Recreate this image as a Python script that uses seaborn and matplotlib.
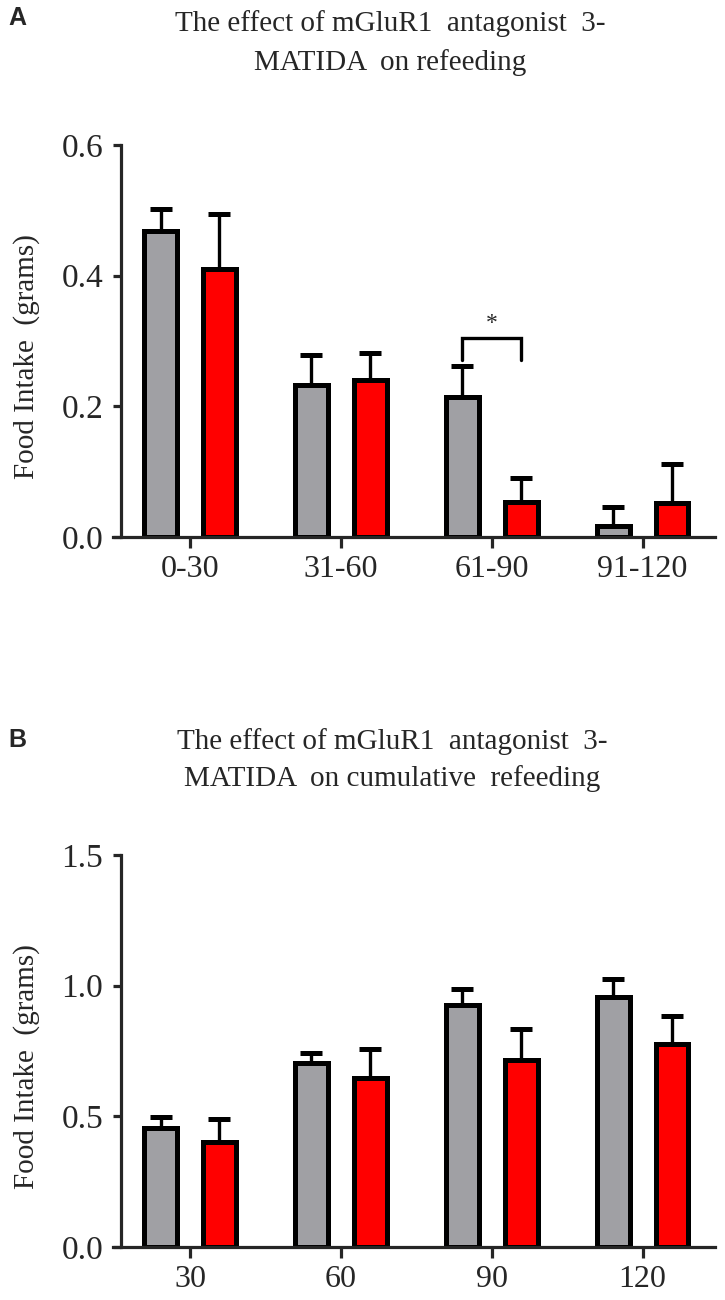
import numpy as np
import pandas as pd
import matplotlib
matplotlib.use('Agg')
import matplotlib.pyplot as plt
import seaborn as sns

# data (mean and upper SEM)
groups = ['Vehicle', '3-MATIDA']
intervals_a = ['0-30', '31-60', '61-90', '91-120']
vehicle_a = [0.468, 0.233, 0.214, 0.017]
vehicle_a_err = [0.034, 0.045, 0.048, 0.029]
matida_a = [0.410, 0.240, 0.054, 0.052]
matida_a_err = [0.085, 0.042, 0.036, 0.060]

intervals_b = ['30', '60', '90', '120']
vehicle_b = [0.455, 0.705, 0.925, 0.955]
vehicle_b_err = [0.043, 0.036, 0.061, 0.069]
matida_b = [0.400, 0.645, 0.715, 0.775]
matida_b_err = [0.088, 0.111, 0.118, 0.109]

# significance bracket in panel A
sig_interval = '61-90'
sig_top = 0.305
sig_leg = 0.271
sig_text = '*'

title_a = 'The effect of mGluR1  antagonist  3-\nMATIDA  on refeeding'
title_b = 'The effect of mGluR1  antagonist  3-\nMATIDA  on cumulative  refeeding'
ylabel = 'Food Intake  (grams)'

grey = '#A0A0A4'
red = '#FF0000'

sns.set_style('ticks')
plt.rcParams['font.family'] = ['Liberation Serif', 'DejaVu Serif']


def draw_panel(ax, cats, veh, veh_err, mat, mat_err, ymax, yticks):
    df = pd.DataFrame({
        'interval': cats * 2,
        'group': [groups[0]] * len(cats) + [groups[1]] * len(cats),
        'intake': list(veh) + list(mat),
    })
    sns.barplot(data=df, x='interval', y='intake', hue='group', order=cats,
                hue_order=groups, palette=[grey, red], saturation=1,
                width=0.78, gap=0.44, errorbar=None, edgecolor='black',
                linewidth=3.6, legend=False, ax=ax)
    for cont, errs in zip(ax.containers, [veh_err, mat_err]):
        xs = [p.get_x() + p.get_width() / 2 for p in cont]
        hs = [p.get_height() for p in cont]
        ax.errorbar(xs, hs, yerr=[np.zeros(len(errs)), errs], fmt='none',
                    ecolor='black', elinewidth=2.4, capsize=8, capthick=3.6,
                    zorder=1)
    ax.set_xlim(-0.51, 3.48)
    ax.set_ylim(0, ymax)
    ax.set_yticks(yticks)
    ax.set_yticklabels([f'{t:.1f}' for t in yticks])
    sns.despine(ax=ax)
    ax.spines['left'].set_position(('data', -0.455))
    for s in ['left', 'bottom']:
        ax.spines[s].set_linewidth(2.3)
        ax.spines[s].set_capstyle('projecting')
    ax.tick_params(axis='y', length=6, width=2.3, pad=7, labelsize=24)
    ax.tick_params(axis='x', length=8, width=2.3, pad=5, labelsize=23)
    ax.set_xlabel('')
    ax.set_ylabel(ylabel, fontsize=21)
    ax.yaxis.set_label_coords(-0.122, 0.46)


fig = plt.figure(figsize=(7.25, 13), dpi=100)
ax_a = fig.add_axes([113 / 725, 1 - 537 / 1300, 602 / 725, 392 / 1300])
ax_b = fig.add_axes([113 / 725, 1 - 1247 / 1300, 602 / 725, 392 / 1300])

draw_panel(ax_a, intervals_a, vehicle_a, vehicle_a_err, matida_a, matida_a_err,
           0.6, [0.0, 0.2, 0.4, 0.6])
draw_panel(ax_b, intervals_b, vehicle_b, vehicle_b_err, matida_b, matida_b_err,
           1.5, [0.0, 0.5, 1.0, 1.5])

# significance bracket between the two bars of one interval
k = intervals_a.index(sig_interval)
x0 = ax_a.containers[0][k].get_x() + ax_a.containers[0][k].get_width() / 2
x1 = ax_a.containers[1][k].get_x() + ax_a.containers[1][k].get_width() / 2
ax_a.plot([x0, x0, x1, x1], [sig_leg, sig_top, sig_top, sig_leg],
          color='black', lw=2.4, solid_joinstyle='miter')
ax_a.text((x0 + x1) / 2, sig_top + 0.006, sig_text, ha='center', va='bottom',
          fontsize=17)

# titles and panel letters
fig.text(390 / 725, 1 - 43 / 1300, title_a, ha='center', va='center',
         fontsize=21, linespacing=1.55)
fig.text(392 / 725, 1 - 760 / 1300, title_b, ha='center', va='center',
         fontsize=21, linespacing=1.45)
fig.text(8 / 725, 1 - 18 / 1300, 'A', ha='left', va='center', fontsize=18,
         fontweight='bold', family=['Liberation Sans', 'DejaVu Sans'])
fig.text(8 / 725, 1 - 740 / 1300, 'B', ha='left', va='center', fontsize=18,
         fontweight='bold', family=['Liberation Sans', 'DejaVu Sans'])

fig.savefig('out.png', dpi=100)
